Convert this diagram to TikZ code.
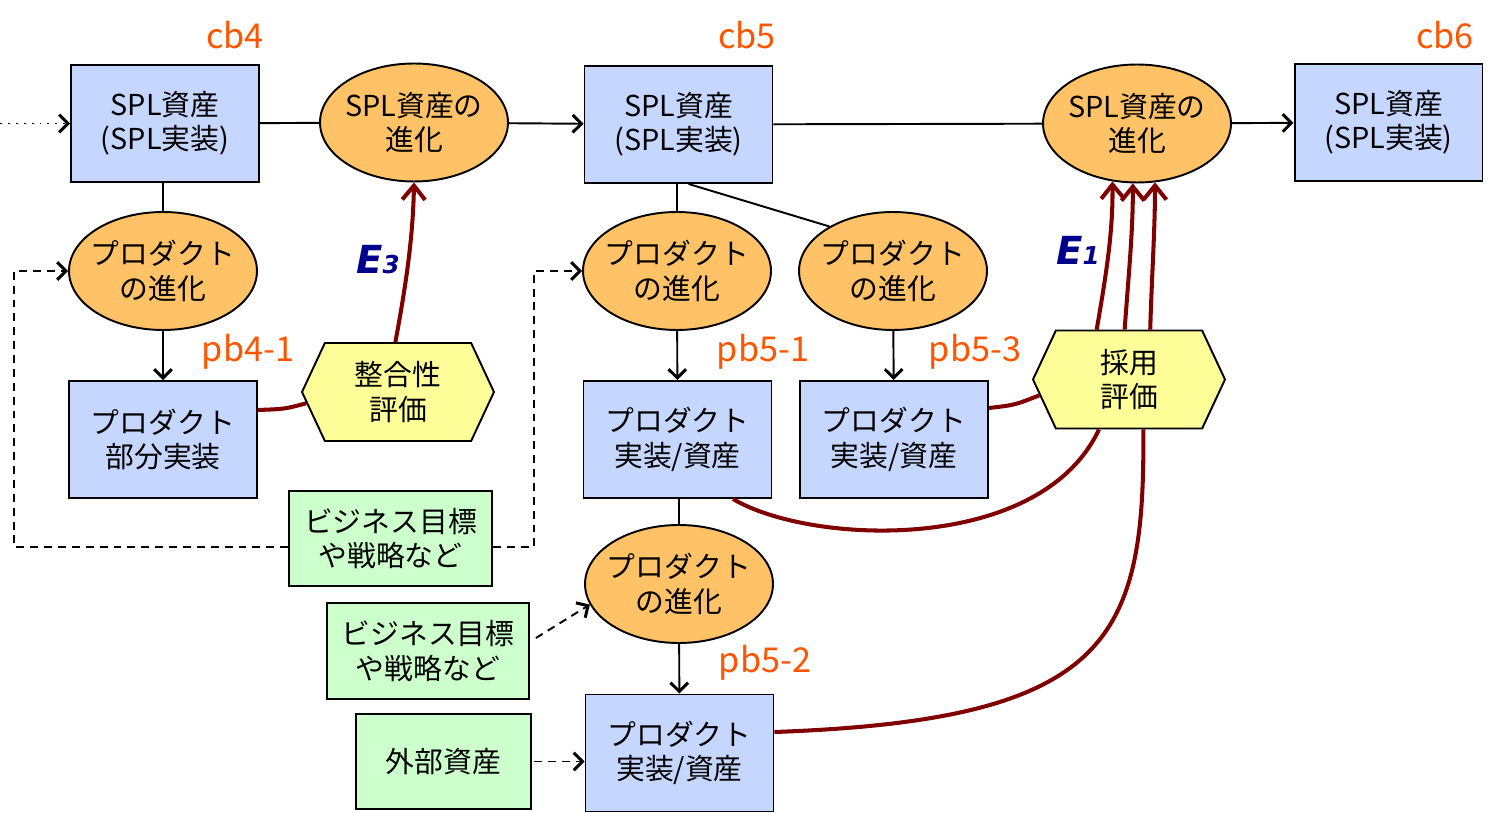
\documentclass[tikz,border=0pt]{standalone}
\usepackage{fontspec}
\setmainfont{Noto Sans CJK JP}
\newfontfamily\efont{DejaVu Sans}
\usetikzlibrary{shapes.geometric,shapes.symbols,arrows.meta}
\definecolor{boxblue}{RGB}{197,214,255}
\definecolor{evorange}{RGB}{255,194,102}
\definecolor{hexyellow}{RGB}{255,255,153}
\definecolor{biggreen}{RGB}{204,255,204}
\definecolor{linkred}{RGB}{128,0,0}
\definecolor{tagorange}{RGB}{255,85,0}
\definecolor{enavy}{RGB}{0,0,140}
\begin{document}
\begin{tikzpicture}[x=0.02cm, y=-0.02cm, line width=1.1pt,
	every node/.style={align=center, inner sep=0pt, font=\fontsize{16.4}{19.5}\selectfont},
	asset/.style={rectangle, draw, fill=boxblue, minimum width=3.76cm, minimum height=2.34cm},
	evol/.style={ellipse, draw, fill=evorange, inner xsep=-0.4cm, minimum width=3.76cm, minimum height=2.36cm},
	judge/.style={signal, signal to=east and west, signal pointer angle=130, draw, fill=hexyellow, minimum width=3.84cm, minimum height=1.96cm},
	goal/.style={rectangle, draw, fill=biggreen, minimum height=1.9cm},
	tag/.style={text=tagorange, font=\fontsize{19.5}{22}\selectfont},
	elbl/.style={text=enavy, font=\efont\bfseries\itshape\fontsize{22}{24}\selectfont},
	tip/.style={-{Straight Barb[length=5pt,width=10pt,line width=1.7pt]}},
	link/.style={linkred, line width=2.3pt},
	linktip/.style={link, -{Straight Barb[length=8pt,width=13pt]}},
	dashline/.style={dash pattern=on 4.5pt off 3.4pt},
	dotline/.style={dash pattern=on 1.1pt off 3.4pt}]
	\useasboundingbox (0,0) rectangle (1491,813);
	
	% core assets
	\node[asset] (cb4) at (165,123.5) {SPL資産\\(SPL実装)};
	\node[evol] (ev4) at (414,122.5) {SPL資産の\\進化};
	\node[asset] (cb5) at (678.5,124.5) {SPL資産\\(SPL実装)};
	\node[evol] (ev5) at (1137,123.5) {SPL資産の\\進化};
	\node[asset] (cb6) at (1388.5,122.5) {SPL資産\\(SPL実装)};
	\node[tag] (t4) at (235,35) {cb4};
	\node[tag] (t5) at (747,35) {cb5};
	\node[tag] (t6) at (1445,35) {cb6};
	\coordinate (in4) at (0,123.5);
	
	% products
	\node[evol] (pe4) at (163,271) {プロダクト\\の進化};
	\node[asset] (pb41) at (163,439.5) {プロダクト\\部分実装};
	\node[evol] (pe51) at (677,271) {プロダクト\\の進化};
	\node[asset] (pb51) at (677.5,439.5) {プロダクト\\実装/資産};
	\node[evol] (pe53) at (893,271) {プロダクト\\の進化};
	\node[asset] (pb53) at (894,439.5) {プロダクト\\実装/資産};
	\node[evol] (pe52) at (679,584) {プロダクト\\の進化};
	\node[asset] (pb52) at (679.5,753) {プロダクト\\実装/資産};
	\node[tag] (l41) at (248,352) {pb4-1};
	\node[tag] (l51) at (763,352) {pb5-1};
	\node[tag] (l53) at (975,352) {pb5-3};
	\node[tag] (l52) at (765,663) {pb5-2};
	
	% evaluations and inputs
	\node[judge] (hxa) at (398,392) {整合性\\評価};
	\node[judge] (hxb) at (1129,379.5) {採用\\評価};
	\node[elbl] (e3) at (378,260) {E{\fontsize{14}{14}\selectfont 3}};
	\node[elbl] (e1) at (1078,250) {E{\fontsize{14}{14}\selectfont 1}};
	\node[goal, minimum width=4.06cm] (bg1) at (390.5,538.5) {ビジネス目標\\や戦略など};
	\node[goal, minimum width=4.04cm, minimum height=1.92cm] (bg2) at (428,651) {ビジネス目標\\や戦略など};
	\node[goal, minimum width=3.5cm] (ext) at (443.5,761.5) {外部資産};
	
	\draw[dotline, tip] (in4) -- (cb4.west);
	\draw (cb4) -- (ev4);
	\draw[tip] (ev4) -- (cb5);
	\draw (cb5) -- (ev5);
	\draw[tip] (ev5) -- (cb6);
	
	\draw (pe4.north |- cb4.south) -- (pe4.north);
	\draw[tip] (pe4) -- (pb41);
	\draw (pe51.north |- cb5.south) -- (pe51.north);
	\draw ([xshift=0.2cm]cb5.south) -- (pe53.145);
	\draw[tip] (pe51) -- (pb51);
	\draw[tip] (pe53) -- (pb53);
	\draw (pe52.north |- pb51.south) -- (pe52.north);
	\draw[tip] (pe52) -- (pb52);
	
	\draw[dashline, tip] ([yshift=-0.17cm]bg1.west) -- ++(-274,0) |- (pe4.west);
	\draw[dashline, tip] ([yshift=-0.17cm]bg1.east) -- ++(41,0) |- (pe51.west);
	\draw[dashline, tip] ([xshift=0.12cm,yshift=0.26cm]bg2.east) -- (pe52.193);
	\draw[dashline, tip] ([xshift=0.04cm]ext.east) -- (ext.east -| pb52.west);
	
	\draw[link] ([yshift=0.59cm]pb41.east) .. controls (285,409) .. (hxa.187);
	\draw[linktip] (hxa.93) .. controls (405,290) and (413,240) .. (ev4.south);
	\draw[link] ([yshift=0.63cm]pb53.east) .. controls (1015,405) .. (hxb.190);
	\draw[link] ([xshift=1.11cm]pb51.south) .. controls (810,545) and (1040,555) .. (hxb.239);
	\draw[link] ([yshift=0.42cm]pb52.east) .. controls (1110,720) and (1145,640) .. (hxb.286);
	\draw[linktip] (hxb.123) .. controls (1107,270) and (1113,230) .. (ev5.247);
	\draw[linktip] (hxb.95) .. controls (1129,270) and (1133,230) .. (ev5.266);
	\draw[linktip] (hxb.67) .. controls (1152,270) and (1155,230) .. (ev5.287);
\end{tikzpicture}
\end{document}
